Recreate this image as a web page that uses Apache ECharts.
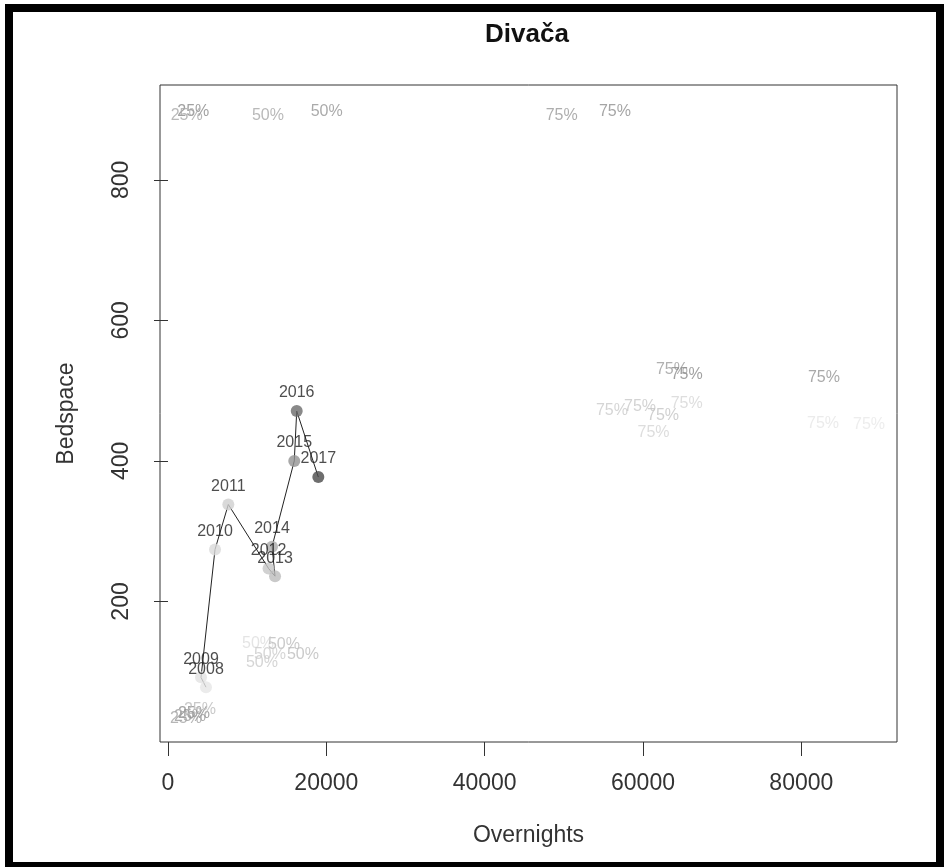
<!DOCTYPE html>
<html>
<head>
<meta charset="utf-8">
<script src="https://cdn.jsdelivr.net/npm/echarts@6/dist/echarts.min.js"></script>
<style>
  html, body { margin: 0; padding: 0; background: #fff; }
  #chart { width: 946px; height: 867px; }
</style>
</head>
<body>
<div id="chart"></div>
<script>
// yearly values for Divača
const years = ['2008', '2009', '2010', '2011', '2012', '2013', '2014', '2015', '2016', '2017']
const overnights = [4800, 4170, 5940, 7620, 12700, 13520, 13140, 15950, 16260, 18990]
const bedspace = [78, 92, 274, 338, 247, 236, 278, 400, 471, 377]

// quantile markers of other places
const pctLabels = [
  '25%', '25%', '50%', '50%', '75%', '75%',
  '75%', '75%', '75%', '75%', '75%', '75%', '75%', '75%', '75%', '75%',
  '25%', '25%', '25%', '25%',
  '50%', '50%', '50%', '50%', '50%',
]
const pctX = [
  3200, 2360, 12630, 20050, 49730, 56460,
  63660, 65520, 82860, 56080, 59620, 62530, 65520, 61330, 82740, 88550,
  2780, 3280, 4040, 2270,
  11370, 14650, 12880, 17050, 11870,
]
const pctY = [
  897, 891, 891, 897, 891, 897,
  530, 523, 518, 471, 477, 464, 482, 440, 453, 452,
  36, 41, 46, 34,
  140, 139, 125, 125, 113,
]

// styling (kept apart from the values)
const pointColors = ['#e6e6e6', '#e2e2e2', '#dadada', '#cfcfcf', '#c6c6c6', '#bcbcbc', '#aaaaaa', '#929292', '#6c6c6c', '#4a4a4a']
const pctColors = [
  '#8a8a8a', '#a8a8a8', '#a8a8a8', '#959595', '#9a9a9a', '#8e8e8e',
  '#9c9c9c', '#8a8a8a', '#949494', '#cacaca', '#c8c8c8', '#c4c4c4', '#d6d6d6', '#d4d4d4', '#e6e6e6', '#e8e8e8',
  '#9a9a9a', '#8e8e8e', '#bcbcbc', '#a4a4a4',
  '#dddddd', '#bdbdbd', '#cccccc', '#bdbdbd', '#cbcbcb',
]

const FONT = '"Liberation Sans", Arial, sans-serif'

const chart = echarts.init(document.getElementById('chart'))

const pairs = years.map((y, i) => [overnights[i], bedspace[i]])

chart.setOption({
  backgroundColor: '#fff',
  animation: false,
  title: {
    text: 'Divača',
    left: 522,
    top: 17,
    textAlign: 'center',
    textStyle: { fontFamily: FONT, fontSize: 26, fontWeight: 'bold', color: '#111' },
  },
  graphic: [
    {
      type: 'rect',
      shape: { x: 9, y: 8, width: 931, height: 858 },
      style: { fill: 'none', stroke: '#000', lineWidth: 8 },
      z: 100,
    },
  ],
  grid: {
    left: 160, top: 85, width: 737, height: 657,
    show: true, borderColor: '#333', borderWidth: 1,
    outerBoundsMode: 'none',
  },
  xAxis: {
    type: 'value',
    min: -1010,
    max: 92084,
    name: 'Overnights',
    nameLocation: 'middle',
    nameGap: 82,
    nameTextStyle: { fontFamily: FONT, fontSize: 23, color: '#333' },
    axisLine: { show: false },
    splitLine: { show: false },
    axisTick: {
      show: true, inside: false, length: 14,
      lineStyle: { color: '#333' },
      customValues: [0, 20000, 40000, 60000, 80000],
    },
    axisLabel: {
      margin: 30,
      fontFamily: FONT, fontSize: 23, color: '#333',
      customValues: [0, 20000, 40000, 60000, 80000],
      formatter: (v) => String(v),
    },
  },
  yAxis: {
    type: 'value',
    min: 0,
    max: 935,
    name: 'Bedspace',
    nameLocation: 'middle',
    nameGap: 82,
    nameTextStyle: { fontFamily: FONT, fontSize: 23, color: '#333' },
    axisLine: { show: false },
    splitLine: { show: false },
    axisTick: {
      show: true, inside: false, length: 14,
      lineStyle: { color: '#333' },
      customValues: [200, 400, 600, 800],
    },
    axisLabel: {
      margin: 27,
      rotate: 90,
      fontFamily: FONT, fontSize: 23, color: '#333',
      customValues: [200, 400, 600, 800],
      formatter: (v) => String(v),
    },
  },
  series: [
    {
      name: 'quantiles',
      type: 'scatter',
      symbolSize: 1,
      itemStyle: { color: 'transparent' },
      z: 1,
      data: pctX.map((x, i) => ({
        value: [x, pctY[i]],
        label: { color: pctColors[i] },
      })),
      label: {
        show: true,
        position: 'inside',
        fontFamily: FONT,
        fontSize: 16,
        formatter: (p) => pctLabels[p.dataIndex],
      },
      silent: true,
    },
    {
      name: 'path',
      type: 'line',
      data: pairs,
      showSymbol: false,
      lineStyle: { color: '#222', width: 1 },
      z: 2,
      silent: true,
    },
    {
      name: 'years',
      type: 'scatter',
      data: pairs,
      symbolSize: 12,
      itemStyle: { color: (p) => pointColors[p.dataIndex] },
      z: 3,
      label: {
        show: true,
        position: 'top',
        distance: 4,
        fontFamily: FONT,
        fontSize: 16,
        color: '#222',
        formatter: (p) => years[p.dataIndex],
      },
    },
  ],
})
</script>
</body>
</html>
